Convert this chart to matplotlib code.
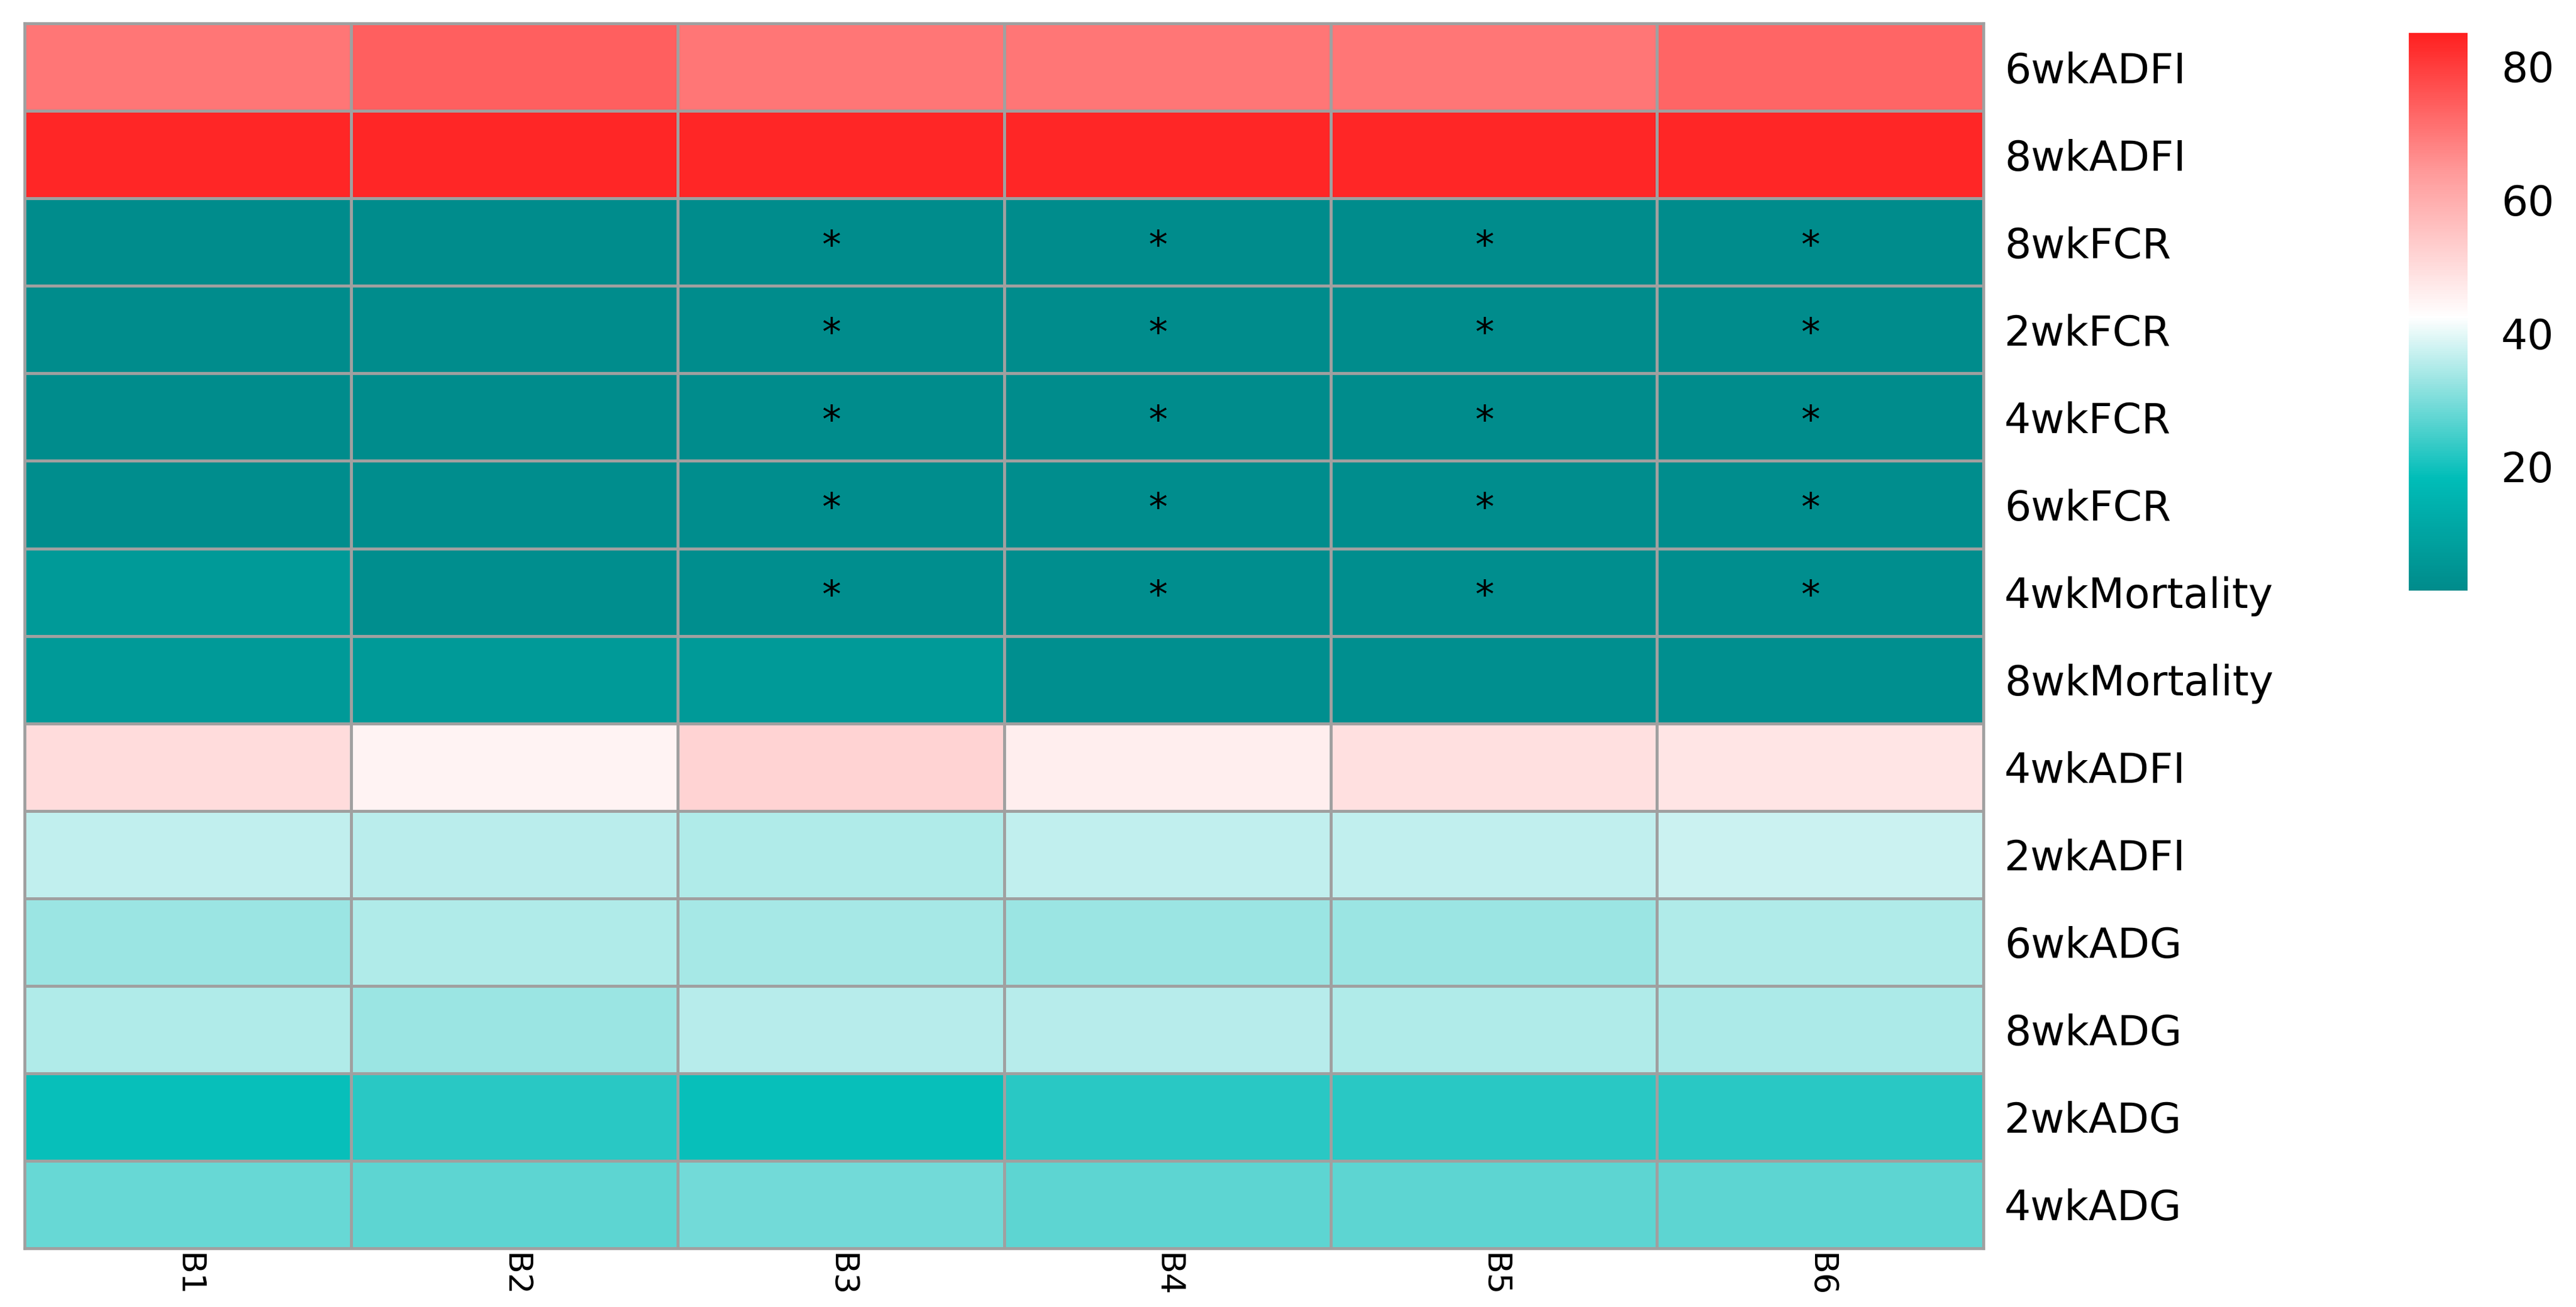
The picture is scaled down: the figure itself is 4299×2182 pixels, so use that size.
import numpy as np
import matplotlib
matplotlib.use("Agg")
import matplotlib.pyplot as plt
from matplotlib.colors import LinearSegmentedColormap

rows = ["6wkADFI", "8wkADFI", "8wkFCR", "2wkFCR", "4wkFCR", "6wkFCR",
        "4wkMortality", "8wkMortality", "4wkADFI", "2wkADFI", "6wkADG",
        "8wkADG", "2wkADG", "4wkADG"]
cols = ["B1", "B2", "B3", "B4", "B5", "B6"]

values = np.array([
    [70, 74, 70, 70, 70, 73],
    [84, 84, 84, 84, 84, 84],
    [2.0, 2.0, 2.0, 2.0, 2.0, 2.0],
    [1.8, 1.8, 1.8, 1.8, 1.8, 1.8],
    [2.0, 2.0, 2.0, 2.0, 2.0, 2.0],
    [2.2, 2.2, 2.2, 2.2, 2.2, 2.2],
    [6.5, 2.5, 2.5, 2.5, 2.5, 2.5],
    [6.5, 6.5, 6.5, 3.0, 3.0, 3.0],
    [50, 45, 52, 46, 49, 48],
    [36.5, 36, 35, 36.5, 36.5, 37.5],
    [33, 35, 34, 33, 33, 35],
    [35, 33, 35.5, 35.5, 35, 34.5],
    [19, 22, 19, 22, 22, 22],
    [28, 27, 29, 27, 27, 27],
])

# rows/cols (index) carrying a significance asterisk
stars = [(r, c) for r in range(2, 7) for c in range(2, 6)]

vmin, vmax = 1.4, 85.0
cmap = LinearSegmentedColormap.from_list("tw", [
    (0.0, "#008b8b"), (0.2, "#00bdb8"), (0.49, "#ffffff"),
    (0.75, "#ff9a9a"), (1.0, "#ff2020")])

fig = plt.figure(figsize=(42.99, 21.82), dpi=100)
ax = fig.add_axes([0.0096, 0.045, 0.7604, 0.937])
ax.pcolormesh(values, cmap=cmap, vmin=vmin, vmax=vmax,
              edgecolor="#a0a0a0", linewidth=3.5)
ax.set_xlim(0, len(cols))
ax.set_ylim(len(rows), 0)
for s in ax.spines.values():
    s.set_color("#a0a0a0")
    s.set_linewidth(3.5)
ax.yaxis.tick_right()
ax.set_yticks(np.arange(len(rows)) + 0.5)
ax.set_yticklabels(rows, fontsize=50)
ax.set_xticks(np.arange(len(cols)) + 0.5)
ax.set_xticklabels(cols, fontsize=40, rotation=270)
ax.tick_params(axis="y", length=0, pad=25)
ax.tick_params(axis="x", length=0, pad=6)
for r, c in stars:
    ax.text(c + 0.47, r + 0.55, "*", ha="center", va="center", fontsize=46)

cax = fig.add_axes([0.935, 0.548, 0.023, 0.427])
sm = plt.cm.ScalarMappable(cmap=cmap, norm=plt.Normalize(vmin, vmax))
cb = fig.colorbar(sm, cax=cax, ticks=[20, 40, 60, 80])
cb.outline.set_visible(False)
cb.ax.tick_params(length=0, labelsize=50, pad=40)

fig.savefig("out.png", dpi=100, facecolor="white")
